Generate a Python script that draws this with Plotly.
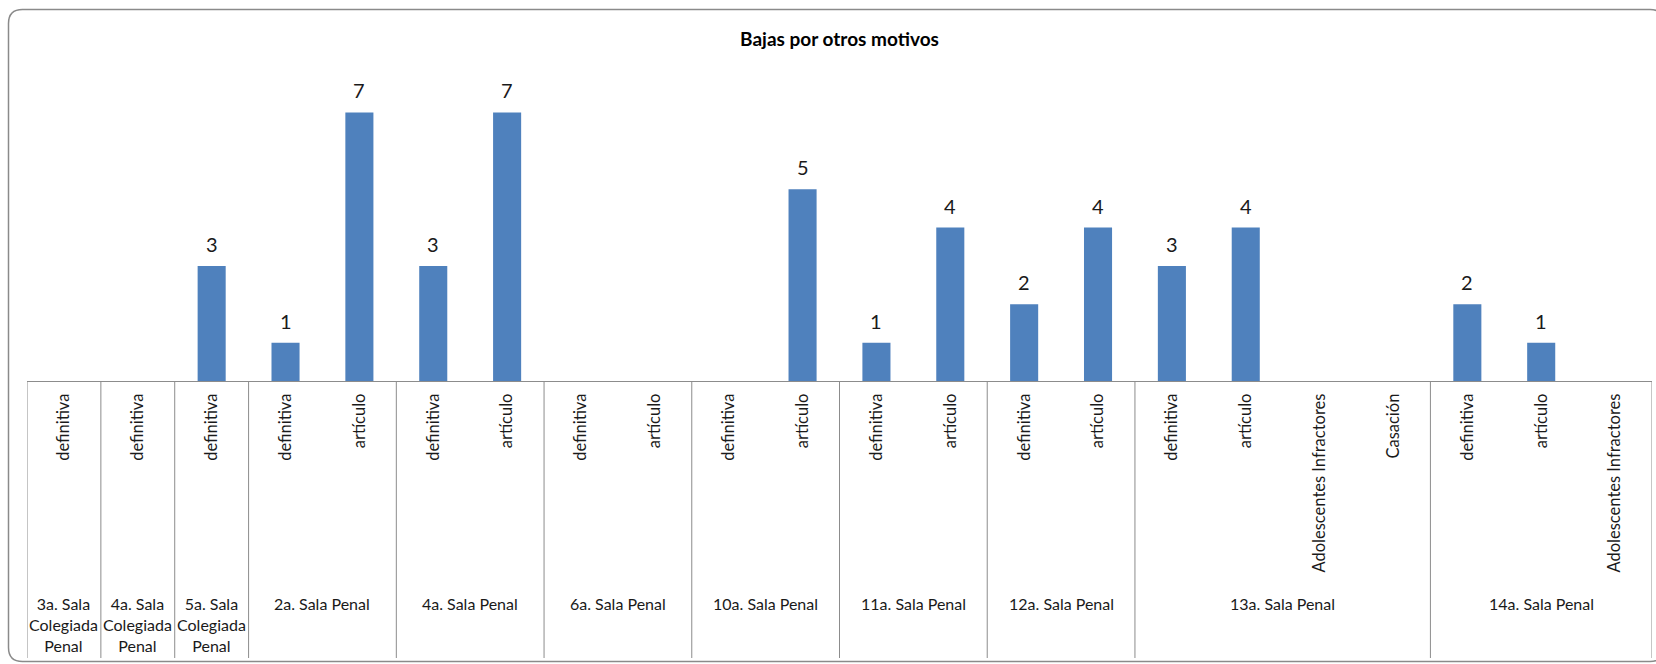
import plotly.graph_objects as go

# ---------------- data ----------------
title_text = "Bajas por otros motivos"
group_names = [
    "3a. Sala Colegiada Penal",
    "4a. Sala Colegiada Penal",
    "5a. Sala Colegiada Penal",
    "2a. Sala Penal",
    "4a. Sala Penal",
    "6a. Sala Penal",
    "10a. Sala Penal",
    "11a. Sala Penal",
    "12a. Sala Penal",
    "13a. Sala Penal",
    "14a. Sala Penal",
]
group_items = [
    ["definitiva"],
    ["definitiva"],
    ["definitiva"],
    ["definitiva", "artículo"],
    ["definitiva", "artículo"],
    ["definitiva", "artículo"],
    ["definitiva", "artículo"],
    ["definitiva", "artículo"],
    ["definitiva", "artículo"],
    ["definitiva", "artículo", "Adolescentes Infractores", "Casación"],
    ["definitiva", "artículo", "Adolescentes Infractores"],
]
group_values = [
    [0],
    [0],
    [3],
    [1, 7],
    [3, 7],
    [0, 0],
    [0, 5],
    [1, 4],
    [2, 4],
    [3, 4, 0, 0],
    [2, 1, 0],
]
y_max = 8

# ---------------- layout geometry (pixels) ----------------
W, H = 1656, 664
ML, MR, MT, MB = 27, 4, 74, 283
plot_w = W - ML - MR
plot_h = H - MT - MB
axis_py = H - MB


def py2paper(py):
    return (axis_py - py) / plot_h


def px2paper(px):
    return (px - ML) / plot_w


sub_labels = [s for items in group_items for s in items]
values = [v for vals in group_values for v in vals]
xs = list(range(len(values)))

BAR = "#4F81BD"
LINE = "#8C8C8C"
TXT = "#1a1a1a"
FONT = "Lato"

fig = go.Figure()
fig.add_trace(go.Bar(
    x=xs, y=values,
    marker=dict(color=BAR, line=dict(width=0)),
    width=0.38,
    hoverinfo="x+y",
))

annotations = []
# data labels
for x, v in zip(xs, values):
    if v:
        annotations.append(dict(
            x=x, y=v, xref="x", yref="y", text=str(v), showarrow=False,
            yanchor="bottom", yshift=8, font=dict(family=FONT, size=20, color=TXT),
        ))


def wrap(name, limit=9):
    words = name.split(" ")
    lines, cur = [], ""
    for w in words:
        trial = (cur + " " + w).strip()
        if len(trial) <= limit or not cur:
            cur = trial
        else:
            lines.append(cur)
            cur = w
    lines.append(cur)
    return "<br>".join(lines)


shapes = []
start = 0
bounds = [start - 0.5]
for name, items in zip(group_names, group_items):
    n = len(items)
    center = start + (n - 1) / 2
    label = wrap(name) if n == 1 else name
    annotations.append(dict(
        x=center, xref="x", y=py2paper(592), yref="paper", text=label,
        showarrow=False, yanchor="top", xanchor="center", align="center",
        font=dict(family=FONT, size=16, color=TXT),
    ))
    start += n
    bounds.append(start - 0.5)

for b in bounds:
    shapes.append(dict(
        type="line", xref="x", yref="paper", x0=b, x1=b,
        y0=0, y1=py2paper(658), line=dict(color=LINE, width=1),
    ))

# outer rounded frame
fl, ft, fr, fb, r = 8.5, 9.5, 1664, 661.5, 14
X = px2paper
Y = py2paper
path = (
    f"M {X(fl + r)},{Y(ft)} L {X(fr - r)},{Y(ft)} "
    f"Q {X(fr)},{Y(ft)} {X(fr)},{Y(ft + r)} L {X(fr)},{Y(fb - r)} "
    f"Q {X(fr)},{Y(fb)} {X(fr - r)},{Y(fb)} L {X(fl + r)},{Y(fb)} "
    f"Q {X(fl)},{Y(fb)} {X(fl)},{Y(fb - r)} L {X(fl)},{Y(ft + r)} "
    f"Q {X(fl)},{Y(ft)} {X(fl + r)},{Y(ft)} Z"
)
shapes.append(dict(type="path", xref="paper", yref="paper", path=path,
                   line=dict(color="#8A8A8A", width=1.5)))

fig.update_layout(
    width=W, height=H,
    margin=dict(l=ML, r=MR, t=MT, b=MB),
    paper_bgcolor="white", plot_bgcolor="white",
    showlegend=False,
    title=dict(text=f"<b>{title_text}</b>", x=0.5, xref="paper", xanchor="center",
               y=1 - 39 / H, yanchor="middle",
               font=dict(family=FONT, size=19, color="#000")),
    xaxis=dict(
        range=[-0.5, len(values) - 0.5],
        tickmode="array", tickvals=xs, ticktext=sub_labels,
        tickangle=-90, ticks="", ticklabelstandoff=5,
        tickfont=dict(family=FONT, size=16.5, color=TXT),
        showline=True, linecolor=LINE, linewidth=1,
        showgrid=False, zeroline=False, fixedrange=True,
    ),
    yaxis=dict(range=[0, y_max], visible=False, showgrid=False, zeroline=False),
    annotations=annotations,
    shapes=shapes,
    bargap=0.62,
)

fig.write_html(
    "out.html",
    config={"displayModeBar": False},
    post_script="document.body.style.margin='0';document.body.style.overflow='hidden';",
)
